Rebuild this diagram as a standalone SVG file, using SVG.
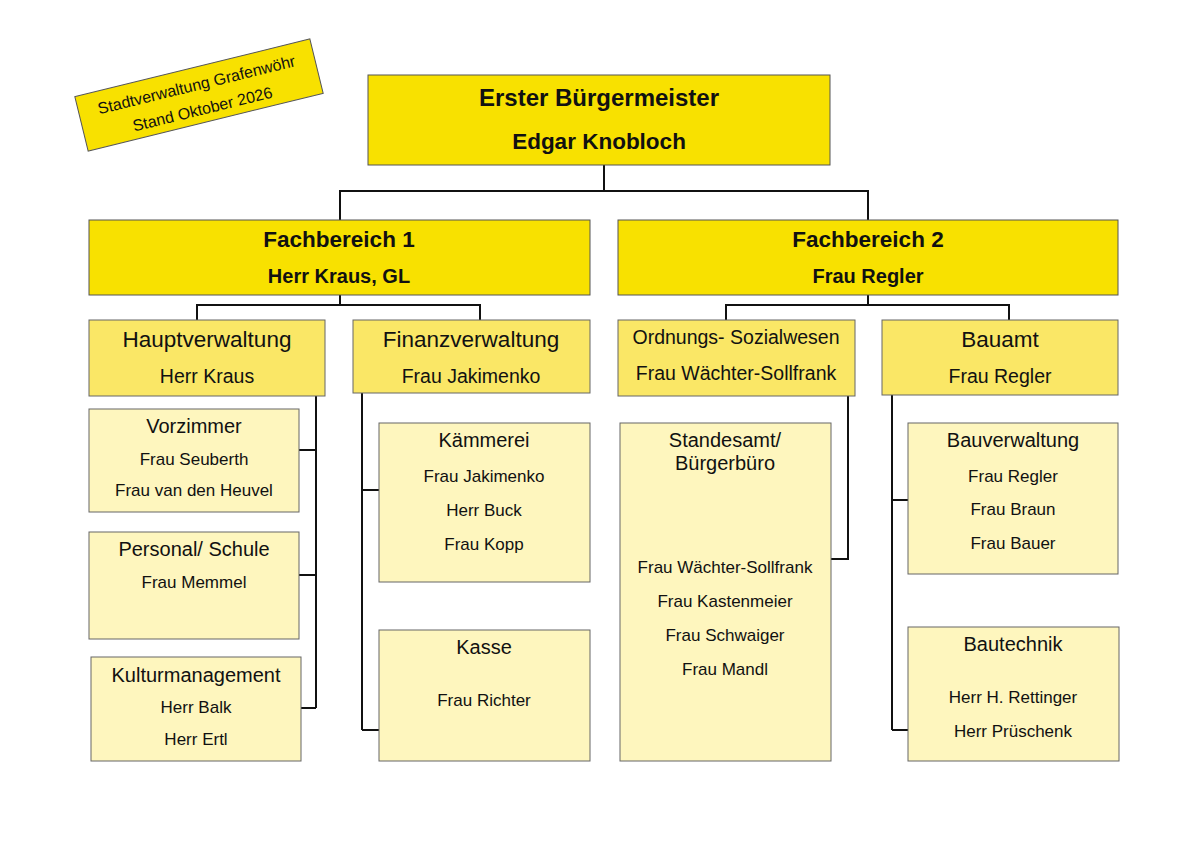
<svg xmlns="http://www.w3.org/2000/svg" width="1200" height="848" viewBox="0 0 1200 848">
<style>
text{font-family:"Liberation Sans",Arial,sans-serif;fill:#111;text-anchor:middle}
.a{fill:#F8E100;stroke:#555;stroke-width:1}
.b{fill:#FAE766;stroke:#666;stroke-width:1}
.c{fill:#FEF6BE;stroke:#666;stroke-width:1}
.t{font-size:22.5px;font-weight:bold}
.h{font-size:22.5px}
.s{font-size:17px}
.n{font-size:20px}
.m{font-size:19.5px}
#conn path{fill:none;stroke:#111;stroke-width:2}
</style>
<rect width="1200" height="848" fill="#fff"/>
<g id="stand" transform="translate(199,95) rotate(-13.8)">
<rect x="-121" y="-28" width="242" height="56" class="a"/>
<text x="0" y="-5" style="font-size:16px">Stadtverwaltung Grafenwöhr</text>
<text x="0" y="20" style="font-size:16px">Stand Oktober 2026</text>
</g>
<g id="conn">
<path d="M604 165V191M340 220V191H868V220"/>
<path d="M340 295V305M197 320V305H480V320"/>
<path d="M868 295V305M726 320V305H1009V320"/>
<path d="M316 396V708M299 450H316M299 575H316M301 708H316"/>
<path d="M362 393V730M362 490H379M362 730H379"/>
<path d="M848 396V559H831"/>
<path d="M892 395V730M892 500H908M892 730H908"/>
</g>
<g id="bm"><rect x="368" y="75" width="462" height="90" class="a"/>
<text x="599" y="106" style="font-size:24px;font-weight:bold">Erster Bürgermeister</text>
<text x="599" y="149" class="t">Edgar Knobloch</text></g>
<g id="fb1"><rect x="89" y="220" width="501" height="75" class="a"/>
<text x="339" y="247" class="t">Fachbereich 1</text>
<text x="339" y="283" style="font-size:20px;font-weight:bold">Herr Kraus, GL</text></g>
<g id="fb2"><rect x="618" y="220" width="500" height="75" class="a"/>
<text x="868" y="247" class="t">Fachbereich 2</text>
<text x="868" y="283" style="font-size:20px;font-weight:bold">Frau Regler</text></g>
<g id="hv"><rect x="89" y="320" width="236" height="76" class="b"/>
<text x="207" y="347" class="h">Hauptverwaltung</text>
<text x="207" y="383" class="m">Herr Kraus</text></g>
<g id="fv"><rect x="353" y="320" width="237" height="73" class="b"/>
<text x="471" y="347" class="h">Finanzverwaltung</text>
<text x="471" y="383" class="m">Frau Jakimenko</text></g>
<g id="os"><rect x="618" y="320" width="237" height="76" class="b"/>
<text x="736" y="344" class="m">Ordnungs- Sozialwesen</text>
<text x="736" y="380" class="m">Frau Wächter-Sollfrank</text></g>
<g id="ba"><rect x="882" y="320" width="236" height="75" class="b"/>
<text x="1000" y="347" class="h">Bauamt</text>
<text x="1000" y="383" class="m">Frau Regler</text></g>
<g id="vz"><rect x="89" y="409" width="210" height="103" class="c"/>
<text x="194" y="433" class="n">Vorzimmer</text>
<text x="194" y="465" class="s">Frau Seuberth</text>
<text x="194" y="496" class="s">Frau van den Heuvel</text></g>
<g id="ps"><rect x="89" y="532" width="210" height="107" class="c"/>
<text x="194" y="556" class="n">Personal/ Schule</text>
<text x="194" y="588" class="s">Frau Memmel</text></g>
<g id="km"><rect x="91" y="657" width="210" height="104" class="c"/>
<text x="196" y="682" class="n">Kulturmanagement</text>
<text x="196" y="713" class="s">Herr Balk</text>
<text x="196" y="745" class="s">Herr Ertl</text></g>
<g id="kae"><rect x="379" y="423" width="211" height="159" class="c"/>
<text x="484" y="447" class="n">Kämmerei</text>
<text x="484" y="482" class="s">Frau Jakimenko</text>
<text x="484" y="516" class="s">Herr Buck</text>
<text x="484" y="550" class="s">Frau Kopp</text></g>
<g id="ka"><rect x="379" y="630" width="211" height="131" class="c"/>
<text x="484" y="654" class="n">Kasse</text>
<text x="484" y="706" class="s">Frau Richter</text></g>
<g id="st"><rect x="620" y="423" width="211" height="338" class="c"/>
<text x="725" y="447" class="n">Standesamt/</text>
<text x="725" y="470" class="n">Bürgerbüro</text>
<text x="725" y="573" class="s">Frau Wächter-Sollfrank</text>
<text x="725" y="607" class="s">Frau Kastenmeier</text>
<text x="725" y="641" class="s">Frau Schwaiger</text>
<text x="725" y="675" class="s">Frau Mandl</text></g>
<g id="bv"><rect x="908" y="423" width="210" height="151" class="c"/>
<text x="1013" y="447" class="n">Bauverwaltung</text>
<text x="1013" y="482" class="s">Frau Regler</text>
<text x="1013" y="515" class="s">Frau Braun</text>
<text x="1013" y="549" class="s">Frau Bauer</text></g>
<g id="bt"><rect x="908" y="627" width="211" height="134" class="c"/>
<text x="1013" y="651" class="n">Bautechnik</text>
<text x="1013" y="703" class="s">Herr H. Rettinger</text>
<text x="1013" y="737" class="s">Herr Prüschenk</text></g>
</svg>
